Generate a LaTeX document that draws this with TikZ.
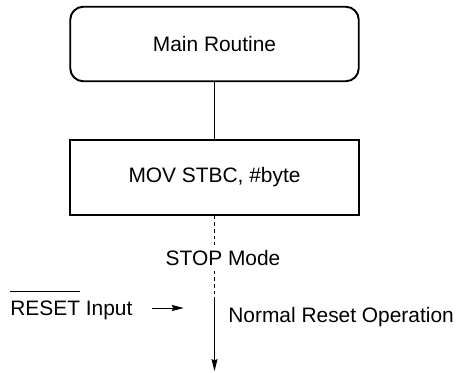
\documentclass[tikz,border=0pt]{standalone}
\usepackage{fontspec}
\setmainfont{Liberation Sans}
\usetikzlibrary{arrows.meta,positioning}
\newcommand{\barsig}[1]{\setbox0\hbox{#1}\rlap{\rule[1.12em]{\wd0}{0.5pt}}\box0\relax}

\begin{document}
\begin{tikzpicture}[node distance=1.14cm,
  font=\fontsize{11.9}{14}\selectfont,
  box/.style={draw,line width=1.1pt,minimum width=5.77cm,minimum height=1.49cm,inner sep=0pt},
  lbl/.style={inner sep=0pt},
  dsh/.style={line width=0.55pt,dash pattern=on 2pt off 1.8pt},
  arr/.style={line width=0.55pt,-{Stealth[length=0.24cm,width=0.12cm,inset=0.03cm]}}]
  \useasboundingbox (0,0) rectangle (9.22,-7.44);
  \node[box,rounded corners=0.26cm] (main) at (4.29,-0.88) {Main Routine};
  \node[box,below=of main] (mov) {MOV STBC, \#byte};
  \node[lbl,inner sep=0.1cm,below=0.58cm of mov.south,xshift=0.17cm] (stop) {STOP Mode};
  \coordinate (brk) at (mov.south |- 0,-6.0);
  \coordinate (tip) at (mov.south |- 0,-7.42);
  \draw[line width=0.55pt] (main) -- (mov);
  \draw[dsh] (mov.south) -- (mov.south |- stop.north);
  \draw[dsh] (mov.south |- stop.south) -- (brk);
  \draw[arr] (brk) -- (tip);
  \node[lbl,anchor=base west] (norm) at (4.56,-6.44) {Normal Reset Operation};
  \node[lbl,anchor=base west] (rst) at (0.2,-6.3) {\barsig{RESET} Input};
  \draw[arr] ([shift={(0.38,0.14)}]rst.base east) -- ++(0.64,0);
\end{tikzpicture}
\end{document}
